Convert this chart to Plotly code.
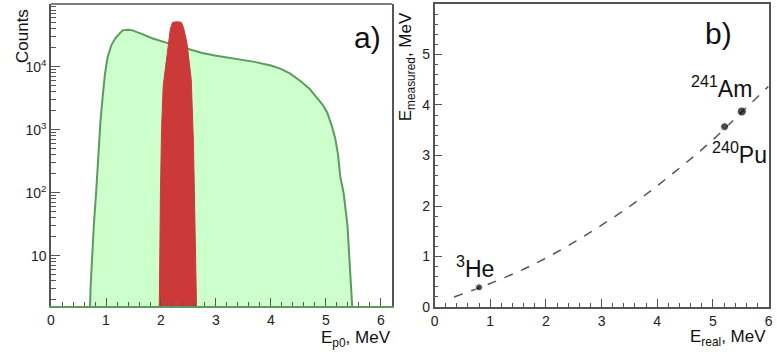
import plotly.graph_objects as go

# ---- panel a) : spectrum (green) and selected window (red) ----
green_energy = [0.69, 0.71, 0.72, 0.745, 0.78, 0.82, 0.85, 0.87, 0.90, 0.94, 0.98, 1.03, 1.10,
                1.18, 1.30, 1.40, 1.48, 1.66, 1.85, 2.08, 2.30, 2.50, 2.75, 2.98, 3.30, 3.70,
                4.00, 4.18, 4.35, 4.54, 4.70, 4.84, 4.94, 5.02, 5.10, 5.17, 5.22, 5.26, 5.32,
                5.39, 5.42, 5.45, 5.48, 5.49]
green_counts = [1, 1.6, 3.2, 10, 32, 100, 320, 650, 1400, 3400, 7600, 14300, 22400,
                29200, 38000, 38900, 38000, 33100, 28200, 24500, 21400, 19100, 16600, 15100, 13800, 12000,
                10500, 9300, 7800, 5900, 4500, 3200, 2500, 1900, 1200, 720, 400, 180, 100,
                31, 13, 5.2, 1.6, 1]

red_energy = [1.96, 1.97, 1.99, 2.01, 2.04, 2.08, 2.13, 2.17, 2.21, 2.29, 2.37, 2.41, 2.47,
              2.52, 2.55, 2.59, 2.61, 2.64, 2.65]
red_counts = [1, 2, 100, 1000, 5000, 9300, 24500, 40000, 51000, 52000, 51000, 42000, 24500,
              9300, 6300, 630, 100, 3, 1]

# ---- panel b) : calibration ----
point_real = [0.80, 5.21, 5.52]
point_measured = [0.39, 3.57, 3.87]
point_labels = ["<sup>3</sup>He", "<sup>240</sup>Pu", "<sup>241</sup>Am"]

fit_real = [0.35, 0.8, 1.5, 2.0, 2.5, 3.0, 3.5, 4.0, 4.5, 5.0, 5.5, 6.0]
fit_measured = [0.20, 0.38, 0.70, 0.97, 1.28, 1.62, 1.99, 2.40, 2.84, 3.31, 3.84, 4.37]

W, H = 777, 363
FONT = "Liberation Sans, Arial, sans-serif"
AX = "#555555"
GREEN_LINE = "#5e9a5e"

def px(x):
    return x / W

def py(y):
    return 1 - y / H

fig = go.Figure()

fig.add_trace(go.Scatter(x=green_energy, y=green_counts, mode="lines", fill="toself",
                         fillcolor="#ccffcc", line=dict(color=GREEN_LINE, width=2),
                         xaxis="x", yaxis="y", showlegend=False, hoverinfo="skip"))
fig.add_trace(go.Scatter(x=red_energy, y=red_counts, mode="lines", fill="toself",
                         fillcolor="#cc3939", line=dict(color="#cc3939", width=1),
                         xaxis="x", yaxis="y", showlegend=False, hoverinfo="skip"))

fig.add_trace(go.Scatter(x=fit_real, y=fit_measured, mode="lines", line_shape="spline",
                         line=dict(color="#555555", width=1.5, dash="dash"),
                         xaxis="x2", yaxis="y2", showlegend=False, hoverinfo="skip"))
fig.add_trace(go.Scatter(x=point_real, y=point_measured, mode="markers",
                         marker=dict(color="black", size=[7, 8, 9]),
                         xaxis="x2", yaxis="y2", showlegend=False, hoverinfo="skip"))

tickfont = dict(family=FONT, size=14, color="#222222")

minor_log = [m * 10 ** d for d in range(0, 5) for m in range(2, 10)]

fig.update_layout(
    width=W, height=H, margin=dict(l=0, r=0, t=0, b=0), autosize=False,
    paper_bgcolor="white", plot_bgcolor="white",
    xaxis=dict(domain=[px(47.5), px(392)], range=[0, 6.2], showgrid=False, zeroline=False,
               showline=True, linecolor=GREEN_LINE, linewidth=2,
               ticks="inside", ticklen=8, tickwidth=1, tickcolor=AX, dtick=1, tick0=0,
               minor=dict(ticks="inside", ticklen=4, dtick=0.2, tick0=0, tickcolor=AX),
               tickfont=tickfont, anchor="y"),
    yaxis=dict(domain=[py(313), py(4)], type="log", range=[0.2, 5.0], showgrid=False, zeroline=False,
               showline=True, linecolor=AX, linewidth=1.5, mirror=True,
               ticks="inside", ticklen=9, tickwidth=1, tickcolor=AX,
               tickmode="array", tickvals=[10, 100, 1000, 10000],
               ticktext=["10", "10<sup>2</sup>", "10<sup>3</sup>", "10<sup>4</sup>"],
               minor=dict(ticks="inside", ticklen=5, tickmode="array", tickvals=minor_log, tickcolor=AX),
               tickfont=tickfont, anchor="x"),
    xaxis2=dict(domain=[px(435), px(772.5)], range=[0, 6], showgrid=False, zeroline=False,
                showline=True, linecolor=AX, linewidth=1.5, mirror=True,
                ticks="inside", ticklen=8, tickwidth=1, tickcolor=AX, dtick=1, tick0=0,
                minor=dict(ticks="inside", ticklen=4, dtick=0.2, tick0=0, tickcolor=AX),
                tickfont=tickfont, anchor="y2"),
    yaxis2=dict(domain=[py(314), py(4)], range=[0, 6], showgrid=False, zeroline=False,
                showline=True, linecolor=AX, linewidth=1.5, mirror=True,
                ticks="inside", ticklen=8, tickwidth=1, tickcolor=AX, dtick=1, tick0=0,
                minor=dict(ticks="inside", ticklen=4, dtick=0.2, tick0=0, tickcolor=AX),
                tickfont=tickfont, anchor="x2"),
    shapes=[dict(type="line", xref="x domain", yref="y domain", x0=0, x1=1, y0=1, y1=1,
                 line=dict(color=AX, width=1.5), layer="above")],
)

titlefont = dict(family=FONT, size=17, color="#111111")
ann = [
    dict(text="Counts", x=px(18), y=py(37), textangle=-90, font=titlefont),
    dict(text="E<sub>p0</sub>, MeV", x=px(393), y=py(347), xanchor="right", font=titlefont),
    dict(text="E<sub>real</sub>, MeV", x=px(772), y=py(346), xanchor="right", font=titlefont),
    dict(text="E<sub>measured</sub>, MeV", x=px(407), y=py(68), textangle=-90, font=titlefont),
    dict(text="a)", x=px(367), y=py(38), font=dict(family=FONT, size=30, color="#111111")),
    dict(text="b)", x=px(722), y=py(34), font=dict(family=FONT, size=30, color="#111111")),
]
for a in ann:
    a.setdefault("xanchor", "center")
    a.update(xref="paper", yref="paper", yanchor="middle", showarrow=False)
    fig.add_annotation(**a)

label_pos = [(0.73, 0.79), (5.47, 3.05), (5.16, 4.35)]
for lbl, (lx, ly) in zip(point_labels, label_pos):
    fig.add_annotation(text=lbl, x=lx, y=ly, xref="x2", yref="y2", showarrow=False,
                       xanchor="center", yanchor="middle",
                       font=dict(family=FONT, size=23, color="#111111"))

post = (
    "document.documentElement.style.margin='0';"
    "document.body.style.margin='0';document.body.style.padding='0';"
    "document.body.style.overflow='hidden';"
)
fig.write_html("out.html", config={"displayModeBar": False, "responsive": False},
               post_script=post)
